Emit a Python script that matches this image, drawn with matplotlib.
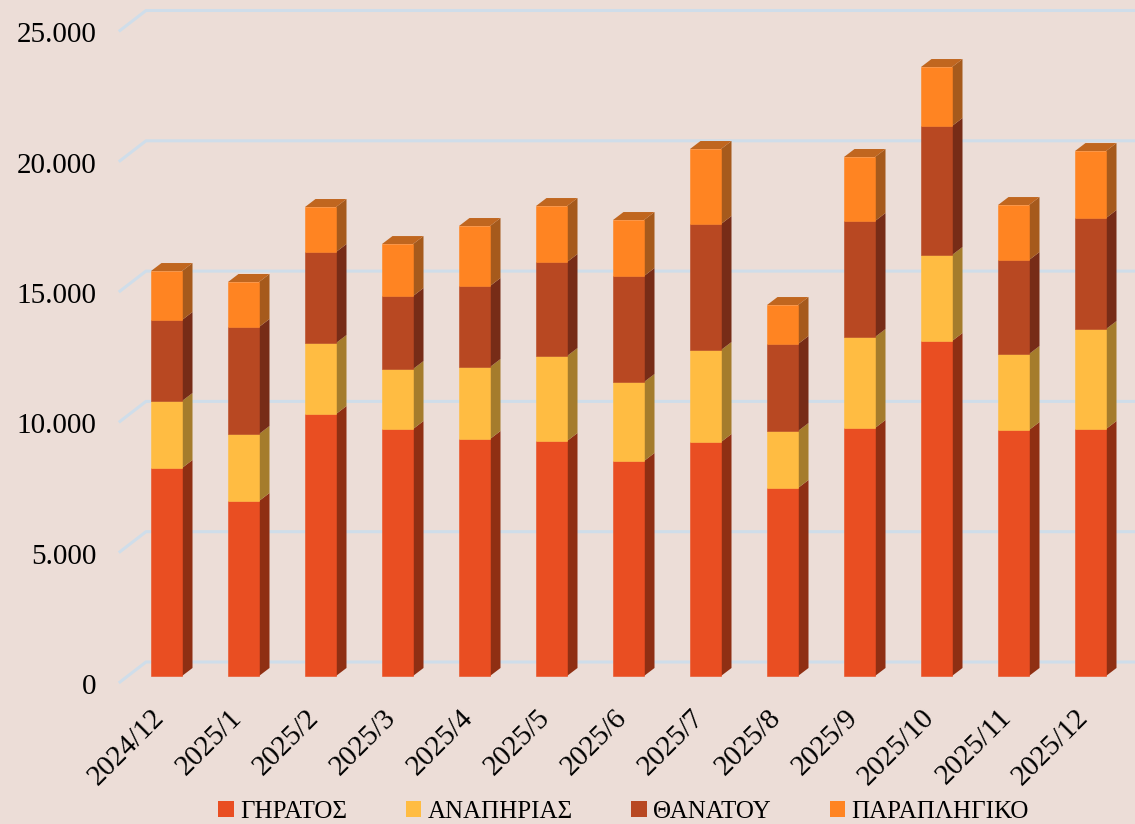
import matplotlib
matplotlib.use("Agg")
import matplotlib.pyplot as plt
from matplotlib.patches import Patch, Polygon
from matplotlib.transforms import ScaledTranslation
from matplotlib.ticker import FuncFormatter

months = ["2024/12", "2025/1", "2025/2", "2025/3", "2025/4", "2025/5", "2025/6",
          "2025/7", "2025/8", "2025/9", "2025/10", "2025/11", "2025/12"]
giratos = [7981, 6715, 10053, 9477, 9094, 9017, 8250, 8979, 7214, 9516, 12854, 9439, 9477]
anapirias = [2571, 2571, 2724, 2302, 2763, 3261, 3031, 3530, 2187, 3492, 3300, 2916, 3837]
thanatou = [3108, 4106, 3492, 2801, 3108, 3607, 4067, 4835, 3338, 4451, 4950, 3607, 4259]
paraplig = [1880, 1727, 1727, 1995, 2302, 2149, 2149, 2878, 1496, 2456, 2264, 2110, 2571]
series = [("ΓΗΡΑΤΟΣ", giratos), ("ΑΝΑΠΗΡΙΑΣ", anapirias),
          ("ΘΑΝΑΤΟΥ", thanatou), ("ΠΑΡΑΠΛΗΓΙΚΟ", paraplig)]
yticks = [0, 5000, 10000, 15000, 20000, 25000]

front = ["#E94E22", "#FFBC42", "#B84822", "#FF8422"]
side = ["#8F2F13", "#A57C2C", "#772C17", "#A65A1C"]
top_col = "#C0661F"
bg = "#ECDDD7"
grid = "#CFDDEA"

W, H = 1135, 824
plt.rcParams['font.family'] = ['Liberation Serif', 'DejaVu Serif']
fig = plt.figure(figsize=(W / 100, H / 100), dpi=100, facecolor=bg)

L, R, B, T = 120, W, 682, 30.5
ax = fig.add_axes([L / W, 1 - B / H, (R - L) / W, (B - T) / H], facecolor="none")
ux = 77.0                       # px per category
uy = (B - T) / 25000            # px per value
ax.set_xlim((L - 166.5) / ux, (R - 166.5) / ux)
ax.set_ylim(0, 25000)
for s in ax.spines.values():
    s.set_visible(False)

# walls of the 3D plot
xl, xr = ax.get_xlim()
gdx, gdy = 26 / ux, 20 / uy
for v in yticks:
    ax.plot([xl, xl + gdx, xr], [v, v + gdy, v + gdy], color=grid, lw=2.2,
            zorder=1, clip_on=False, solid_joinstyle="miter")

# bars with depth
bw = 31 / ux
ddx, ddy = 10.5 / ux, 8 / uy
off = 6 / uy
base = [off] * len(months)
for k, (name, vals) in enumerate(series):
    for i, v in enumerate(vals):
        x0, x1 = i - bw / 2, i + bw / 2
        y0, y1 = base[i], base[i] + v
        ax.add_patch(Polygon([(x1, y0), (x1 + ddx, y0 + ddy), (x1 + ddx, y1 + ddy), (x1, y1)],
                             closed=True, fc=side[k], ec="none", zorder=3 + i))
        if k == len(series) - 1:
            ax.add_patch(Polygon([(x0, y1), (x0 + ddx, y1 + ddy), (x1 + ddx, y1 + ddy), (x1, y1)],
                                 closed=True, fc=top_col, ec="none", zorder=3 + i))
    ax.bar(range(len(months)), vals, bottom=base, width=bw, color=front[k],
           edgecolor=front[k], linewidth=0.4, zorder=30)
    base = [b + v for b, v in zip(base, vals)]

ax.set_yticks(yticks)
ax.yaxis.set_major_formatter(FuncFormatter(lambda v, p: f"{int(v):,}".replace(",", ".")))
ax.set_xticks(range(len(months)))
ax.set_xticklabels(months, rotation=45, ha="right", va="top", rotation_mode="anchor")
ax.tick_params(axis="y", length=0, pad=17, labelsize=21, labelcolor="black")
ax.tick_params(axis="x", length=0, pad=14, labelsize=21, labelcolor="black")
shift_x = ScaledTranslation(-15 / 100, -3 / 100, fig.dpi_scale_trans)
shift_y = ScaledTranslation(0, -2 / 100, fig.dpi_scale_trans)
for t in ax.get_xticklabels():
    t.set_transform(t.get_transform() + shift_x)
for t in ax.get_yticklabels():
    t.set_transform(t.get_transform() + shift_y)

handles = [Patch(fc=c, ec="none") for c in front]
fig.legend(handles, [s[0] for s in series], loc="center", ncol=4,
           bbox_to_anchor=(623.5 / W, 1 - 812 / H), frameon=False, fontsize=18,
           handlelength=0.62, handleheight=0.62, handletextpad=0.25,
           columnspacing=2.35, borderpad=0, borderaxespad=0)

fig.savefig("out.png", dpi=100, facecolor=bg)
